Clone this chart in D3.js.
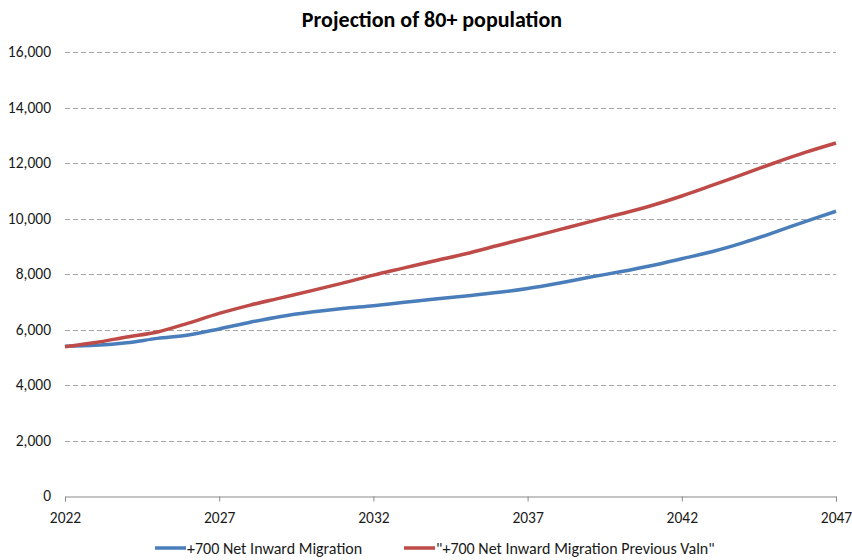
<!DOCTYPE html>
<html>
<head>
<meta charset="utf-8">
<script src="https://cdn.jsdelivr.net/npm/d3@7"></script>
<style>
  html, body { margin: 0; padding: 0; background: #fff; }
  svg { display: block; }
  text { font-family: Carlito, "Liberation Sans Narrow", "Open Sans", sans-serif; }
</style>
</head>
<body>
<svg id="chart" width="852" height="560"></svg>
<script>
// Projected population aged 80+
const years = d3.range(2022, 2048);
const netMigration = [
  5400, 5430, 5520, 5680, 5800, 6020, 6260, 6470, 6630, 6760,
  6860, 6980, 7100, 7210, 7330, 7480, 7670, 7880, 8080, 8300,
  8550, 8810, 9130, 9500, 9890, 10260
];
const previousValn = [
  5380, 5530, 5730, 5910, 6230, 6580, 6880, 7140, 7400, 7670,
  7960, 8220, 8480, 8730, 9020, 9300, 9590, 9880, 10160, 10460,
  10810, 11200, 11600, 12000, 12380, 12720
];
const yTicks = [0, 2000, 4000, 6000, 8000, 10000, 12000, 14000, 16000];
const xTicks = [2022, 2027, 2032, 2037, 2042, 2047];

const series = [
  { name: "+700 Net Inward Migration", values: netMigration, color: "#4A7EBB" },
  { name: "\"+700 Net Inward Migration Previous Valn\"", values: previousValn, color: "#BE4B48" }
];

const svg = d3.select("#chart");
const plot = { left: 65, right: 836, top: 52, bottom: 496 };

const x = d3.scaleLinear().domain([2022, 2047]).range([plot.left, plot.right]);
const y = d3.scaleLinear().domain([0, 16000]).range([plot.bottom, plot.top]);

// Title
svg.append("text")
  .attr("x", 432).attr("y", 27)
  .attr("text-anchor", "middle")
  .attr("font-size", 22).attr("font-weight", "bold")
  .attr("fill", "#000")
  .text("Projection of 80+ population");

// Horizontal dashed gridlines
svg.append("g")
  .selectAll("line")
  .data(yTicks.filter(v => v > 0))
  .join("line")
  .attr("x1", plot.left).attr("x2", plot.right)
  .attr("y1", d => Math.round(y(d)) + 0.5).attr("y2", d => Math.round(y(d)) + 0.5)
  .attr("stroke", "#A6A6A6").attr("stroke-width", 1)
  .attr("stroke-dasharray", "5,3");

// Y axis labels
const fmt = d3.format(",");
svg.append("g")
  .selectAll("text")
  .data(yTicks)
  .join("text")
  .attr("x", 51).attr("y", d => y(d) + 5)
  .attr("text-anchor", "end")
  .attr("font-size", 15.5).attr("fill", "#1a1a1a")
  .text(d => fmt(d));

// X axis
const xAxis = svg.append("g")
  .attr("transform", `translate(0,${plot.bottom + 0.5})`)
  .call(d3.axisBottom(x).tickValues(xTicks).tickSize(5).tickFormat(d3.format("d")));
xAxis.select(".domain").attr("stroke", "#898989");
xAxis.selectAll(".tick line").attr("stroke", "#898989");
xAxis.selectAll(".tick text")
  .attr("font-size", 15.5).attr("fill", "#1a1a1a")
  .attr("font-family", 'Carlito, "Liberation Sans Narrow", "Open Sans", sans-serif')
  .attr("dy", "0.35em").attr("y", 21);

// Smoothed series lines
const line = d3.line()
  .x((d, i) => x(years[i]))
  .y(d => y(d))
  .curve(d3.curveCatmullRom.alpha(0.5));

svg.append("g")
  .selectAll("path")
  .data(series)
  .join("path")
  .attr("d", d => line(d.values))
  .attr("fill", "none")
  .attr("stroke", d => d.color)
  .attr("stroke-width", 3.5)
  .attr("stroke-linejoin", "round");

// Legend
const legendItems = [
  { x: 155, s: series[0] },
  { x: 404, s: series[1] }
];
const legend = svg.append("g");
legendItems.forEach(item => {
  legend.append("line")
    .attr("x1", item.x).attr("x2", item.x + 31)
    .attr("y1", 548).attr("y2", 548)
    .attr("stroke", item.s.color).attr("stroke-width", 3.5);
  legend.append("text")
    .attr("x", item.x + 32).attr("y", 553.5)
    .attr("font-size", 16).attr("fill", "#1a1a1a")
    .text(item.s.name);
});
</script>
</body>
</html>
